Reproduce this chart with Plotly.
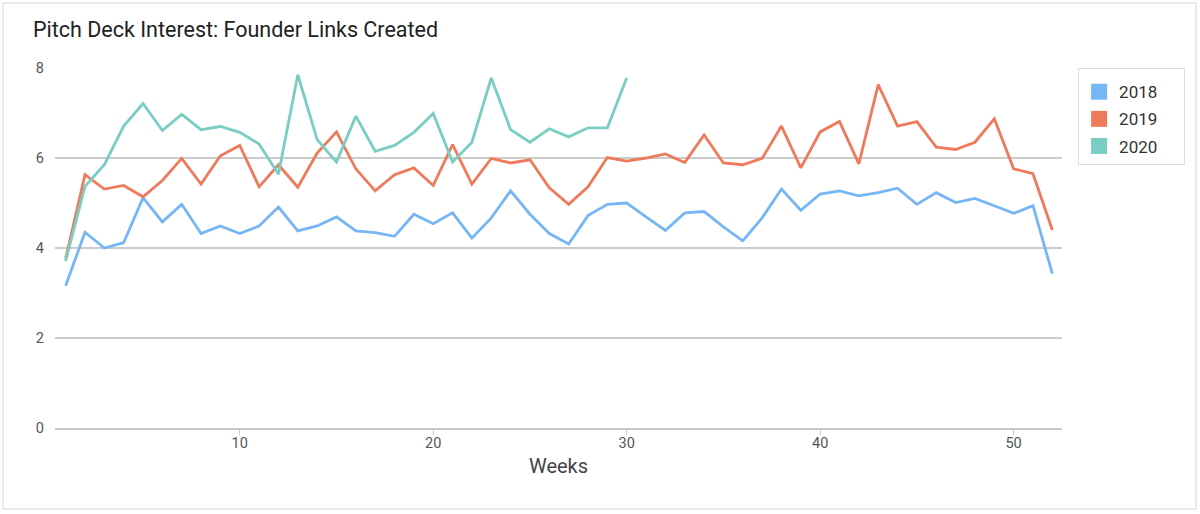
import plotly.graph_objects as go

weeks = list(range(1, 53))
weeks_2020 = list(range(1, 31))

vals_2018 = [3.16, 4.35, 4.00, 4.12, 5.12, 4.58, 4.97, 4.32, 4.49, 4.32,
             4.49, 4.91, 4.38, 4.49, 4.69, 4.38, 4.34, 4.26, 4.75, 4.54,
             4.78, 4.22, 4.67, 5.27, 4.75, 4.32, 4.09, 4.72, 4.97, 5.00,
             4.69, 4.39, 4.78, 4.81, 4.47, 4.16, 4.67, 5.31, 4.84, 5.20,
             5.27, 5.16, 5.23, 5.33, 4.97, 5.23, 5.01, 5.10, 4.94, 4.77,
             4.94, 3.43]
vals_2019 = [3.76, 5.63, 5.31, 5.39, 5.14, 5.50, 5.99, 5.42, 6.05, 6.28,
             5.36, 5.85, 5.35, 6.11, 6.58, 5.76, 5.27, 5.63, 5.78, 5.39,
             6.30, 5.42, 5.99, 5.89, 5.96, 5.34, 4.97, 5.36, 6.01, 5.93,
             6.00, 6.09, 5.90, 6.51, 5.89, 5.85, 5.99, 6.71, 5.78, 6.58,
             6.81, 5.87, 7.63, 6.71, 6.81, 6.24, 6.19, 6.35, 6.87, 5.76,
             5.65, 4.40]
vals_2020 = [3.71, 5.37, 5.85, 6.71, 7.21, 6.61, 6.97, 6.63, 6.70, 6.57,
             6.31, 5.64, 7.85, 6.41, 5.91, 6.93, 6.15, 6.28, 6.57, 6.99,
             5.91, 6.35, 7.78, 6.63, 6.35, 6.65, 6.47, 6.67, 6.67, 7.78]

series = [("2018", weeks, vals_2018, "#76b6f6"),
          ("2019", weeks, vals_2019, "#ef7a5b"),
          ("2020", weeks_2020, vals_2020, "#7acdc2")]

fig = go.Figure()
for name, xs, ys, color in series:
    fig.add_trace(go.Scatter(x=xs, y=ys, mode="lines", name=name,
                             line=dict(color=color, width=2.8),
                             showlegend=False, hoverinfo="x+y"))
# legend swatches (square, filled)
for name, xs, ys, color in series:
    fig.add_trace(go.Scatter(x=[None], y=[None], mode="markers", name=name + "     ",
                             legendgroup=name,
                             marker=dict(symbol="square", size=20, color=color),
                             showlegend=True))

fig.update_layout(
    width=1200, height=514,
    margin=dict(l=55, r=138, t=68, b=86),
    paper_bgcolor="white", plot_bgcolor="white",
    font=dict(family="Roboto, 'DejaVu Sans', sans-serif", color="#444"),
    title=dict(text="Pitch Deck Interest: Founder Links Created",
               x=33 / 1200, xref="container", xanchor="left",
               y=1 - 29 / 514, yref="container", yanchor="middle",
               font=dict(size=21.5, color="#222")),
    xaxis=dict(range=[0.45, 52.5], tickvals=[10, 20, 30, 40, 50],
               showgrid=False, zeroline=False,
               showline=True, linecolor="#c8c8c8", linewidth=1.5,
               ticks="outside", ticklen=5, tickcolor="#c8c8c8",
               ticklabelstandoff=-4,
               tickfont=dict(size=14.5, color="#555"),
               title=dict(text="Weeks", font=dict(size=20, color="#444"), standoff=8)),
    yaxis=dict(range=[0, 8], tickvals=[0, 2, 4, 6, 8],
               showgrid=True, gridcolor="#cccccc", gridwidth=1.5,
               zeroline=False, showline=False, ticks="",
               ticklabelstandoff=10,
               tickfont=dict(size=14.5, color="#555")),
    legend=dict(x=1.016, y=1.0, xanchor="left", yanchor="top",
                bgcolor="white", bordercolor="#dddddd", borderwidth=1,
                font=dict(size=17, color="#333"),
                title=dict(text=" ", font=dict(size=4)),
                itemwidth=30, tracegroupgap=2),
    shapes=[dict(type="rect", xref="paper", yref="paper",
                 x0=(3 - 55) / 1007, x1=(1196 - 55) / 1007,
                 y0=(428 - 509) / 360, y1=(428 - 3) / 360,
                 line=dict(color="#e4e4e4", width=1.5), layer="below")],
)

fig.write_html("out.html", config={"displayModeBar": False},
               post_script="document.body.style.margin='0';")
